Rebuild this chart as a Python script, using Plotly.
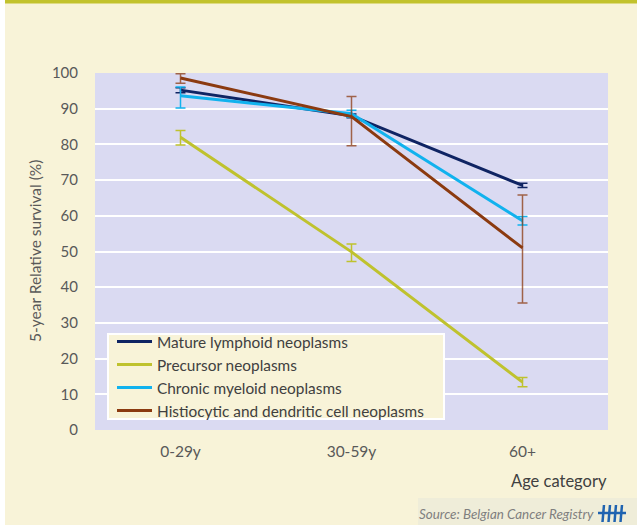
import plotly.graph_objects as go

categories = ["0-29y", "30-59y", "60+"]

series_names = ["Mature lymphoid neoplasms", "Precursor neoplasms",
                "Chronic myeloid neoplasms", "Histiocytic and dendritic cell neoplasms"]
mature = [95.2, 88.0, 68.5]
mature_plus = [0.7, 0.5, 0.6]
mature_minus = [0.7, 0.5, 0.6]
precursor = [82.0, 49.9, 13.4]
precursor_plus = [1.9, 2.2, 1.3]
precursor_minus = [2.2, 2.7, 1.3]
chronic = [93.6, 88.6, 58.6]
chronic_plus = [2.5, 1.0, 1.2]
chronic_minus = [3.4, 1.0, 1.2]
histio = [98.6, 87.8, 51.0]
histio_plus = [1.2, 5.6, 14.8]
histio_minus = [1.5, 8.2, 15.4]

y_ticks = [0, 10, 20, 30, 40, 50, 60, 70, 80, 90, 100]

colors = ["#0F2463", "#BFC22E", "#11B2EE", "#8B3A10"]
err_colors = ["#0F2463", "#BFC22E", "#11B2EE", "rgba(139,58,16,0.75)"]

values = [mature, precursor, chronic, histio]
pluses = [mature_plus, precursor_plus, chronic_plus, histio_plus]
minuses = [mature_minus, precursor_minus, chronic_minus, histio_minus]

FONT = "Lato"
CREAM = "#F8F3D8"

fig = go.Figure()
for name, v, p, m, c, ec in zip(series_names, values, pluses, minuses, colors, err_colors):
    fig.add_trace(go.Scatter(
        x=categories, y=v, name=name, mode="lines",
        line=dict(color=c, width=3),
        error_y=dict(type="data", symmetric=False, array=p, arrayminus=m,
                     color=ec, thickness=1.5, width=5),
    ))

# geometry helpers (pixels -> paper)
L, R, T, B = 95, 608, 73, 430
W, H = R - L, B - T
def px(x):
    return (x - L) / W
def py(y):
    return (B - y) / H

shapes = [
    dict(type="rect", xref="paper", yref="paper", x0=px(-2), x1=px(5), y0=py(-2), y1=py(527),
         fillcolor="white", line=dict(width=0), layer="below"),
    dict(type="rect", xref="paper", yref="paper", x0=px(5), x1=px(640), y0=py(-2), y1=py(3.5),
         fillcolor="#C2C22C", line=dict(width=0), layer="below"),
    dict(type="rect", xref="paper", yref="paper", x0=px(418), x1=px(640), y0=py(498), y1=py(527),
         fillcolor="#EFEDD9", line=dict(width=0), layer="below"),
    # legend box
    dict(type="rect", xref="paper", yref="paper", x0=px(108), x1=px(444), y0=py(334), y1=py(419),
         fillcolor=CREAM, line=dict(color="white", width=2), layer="above"),
    # logo
    dict(type="line", xref="paper", yref="paper", x0=px(598), x1=px(626), y0=py(513), y1=py(513),
         line=dict(color="#1F63B0", width=2.5)),
]
for lx in [604, 610, 616, 622]:
    shapes.append(dict(type="line", xref="paper", yref="paper", x0=px(lx), x1=px(lx - 1.5),
                       y0=py(505), y1=py(522), line=dict(color="#1F63B0", width=2.5)))

annotations = [
    dict(text="5-year Relative survival (%)", xref="paper", yref="paper",
         x=px(35), y=py(251), textangle=-90, showarrow=False,
         font=dict(family=FONT, size=15.5, color="#595959"), xanchor="center", yanchor="middle"),
    dict(text="Age category", xref="paper", yref="paper",
         x=px(609), y=py(481), showarrow=False,
         font=dict(family=FONT, size=16.5, color="#404040"), xanchor="right", yanchor="middle"),
    dict(text="<i>Source: Belgian Cancer Registry</i>", xref="paper", yref="paper",
         x=px(596), y=py(514), showarrow=False,
         font=dict(family=FONT, size=13.4, color="#7F7F7F"), xanchor="right", yanchor="middle"),
]

fig.update_layout(
    width=637, height=525,
    margin=dict(l=L, r=637 - R, t=T, b=525 - B),
    paper_bgcolor=CREAM, plot_bgcolor="#DADAF2",
    font=dict(family=FONT, size=15, color="#595959"),
    showlegend=True,
    legend=dict(x=px(112), y=py(325), xanchor="left", yanchor="top",
                bgcolor="rgba(0,0,0,0)", borderwidth=0,
                font=dict(family=FONT, size=15.4, color="#404040"),
                itemwidth=35, tracegroupgap=0),
    shapes=shapes, annotations=annotations,
    xaxis=dict(type="category", range=[-0.5, 2.5], showgrid=False, zeroline=False, showline=False,
               ticks="", tickfont=dict(family=FONT, size=15.5, color="#595959"),
               ticklabelstandoff=10),
    yaxis=dict(range=[0, 100], tickvals=y_ticks, showgrid=True, gridcolor="white",
               gridwidth=2, zeroline=False, showline=False, ticks="",
               tickfont=dict(family=FONT, size=15, color="#595959"),
               ticklabelstandoff=16),
)

fig.write_html("out.html")
